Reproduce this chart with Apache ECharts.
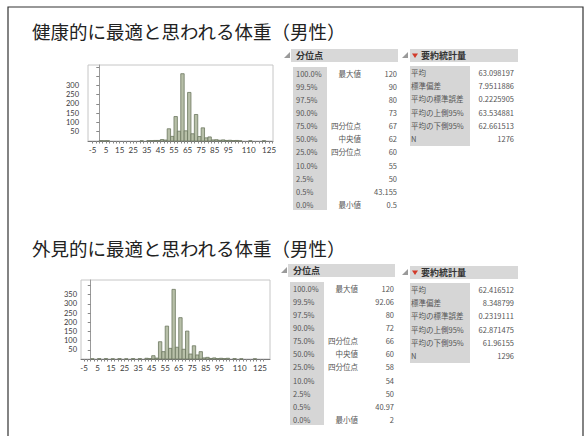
<!DOCTYPE html>
<html>
<head>
<meta charset="utf-8" />
<title>最適と思われる体重（男性）</title>
<script src="https://cdn.jsdelivr.net/npm/echarts@6.0.0/dist/echarts.min.js"></script>
<style>
    * { margin: 0; padding: 0; box-sizing: border-box }
    body { background: #fff; width: 586px; height: 436px; overflow: hidden }
    #chart { width: 586px; height: 436px }
</style>
</head>
<body>
<div id="chart"></div>
<script>
    // ヒストグラム（ビン幅 2.5）
    const binWidth = 2.5;
    const binStarts1 = [0, 2.5, 5, 30, 35, 37.5, 40, 42.5, 45, 47.5, 50, 52.5, 55, 57.5, 60, 62.5, 65, 67.5, 70, 72.5, 75, 77.5, 80, 82.5, 85, 87.5, 90, 92.5, 95, 97.5, 100, 102.5, 110, 120];
    const counts1 = [2, 1, 2, 1, 2, 2, 3, 3, 8, 5, 66, 25, 132, 53, 363, 55, 262, 39, 143, 24, 71, 17, 22, 6, 7, 4, 6, 3, 4, 2, 3, 1, 1, 1];
    const binStarts2 = [0, 5, 10, 15, 20, 25, 30, 35, 40, 42.5, 45, 47.5, 50, 52.5, 55, 57.5, 60, 62.5, 65, 67.5, 70, 72.5, 75, 77.5, 80, 82.5, 85, 87.5, 90, 92.5, 95, 97.5, 100, 105, 110, 120];
    const counts2 = [1, 2, 2, 1, 2, 1, 2, 2, 4, 2, 18, 5, 94, 40, 179, 58, 379, 64, 225, 53, 152, 27, 72, 22, 40, 6, 9, 3, 6, 2, 4, 2, 4, 2, 1, 1];

    // 軸ラベル
    const xLabelVals = [-5, 5, 15, 25, 35, 45, 55, 65, 75, 85, 95, 110, 125];
    const yLabelVals1 = [50, 100, 150, 200, 250, 300];
    const yTickVals1 = [50, 100, 150, 200, 250, 300, 350, 400];
    const yLabelVals2 = [50, 100, 150, 200, 250, 300, 350];
    const yTickVals2 = [50, 100, 150, 200, 250, 300, 350, 400];

    // 表
    const titles = ['健康的に最適と思われる体重（男性）', '外見的に最適と思われる体重（男性）'];
    const quantPct = ['100.0%', '99.5%', '97.5%', '90.0%', '75.0%', '50.0%', '25.0%', '10.0%', '2.5%', '0.5%', '0.0%'];
    const quantMark = ['最大値', '', '', '', '四分位点', '中央値', '四分位点', '', '', '', '最小値'];
    const quantVals1 = ['120', '90', '80', '73', '67', '62', '60', '55', '50', '43.155', '0.5'];
    const quantVals2 = ['120', '92.06', '80', '72', '66', '60', '58', '54', '50', '40.97', '2'];
    const statNames = ['平均', '標準偏差', '平均の標準誤差', '平均の上側95%', '平均の下側95%', 'N'];
    const statVals1 = ['63.098197', '7.9511886', '0.2225905', '63.534881', '62.661513', '1276'];
    const statVals2 = ['62.416512', '8.348799', '0.2319111', '62.871475', '61.96155', '1296'];

    const FONT = '"Noto Sans CJK JP", "Noto Sans", sans-serif';
    const barFill = '#b7bfa8';
    const barLine = '#6c775f';

    function histData(starts, counts) {
        return starts.map((s, i) => [s, s + binWidth, counts[i]]);
    }

    function tickRange(from, to, step) {
        const out = [];
        for (let v = from; v <= to + 1e-9; v += step) out.push(v);
        return out;
    }

    function renderBin(params, api) {
        const p0 = api.coord([api.value(0), api.value(2)]);
        const p1 = api.coord([api.value(1), 0]);
        return {
            type: 'rect',
            shape: { x: p0[0], y: p0[1], width: p1[0] - p0[0], height: p1[1] - p0[1] },
            style: { fill: barFill, stroke: barLine, lineWidth: 0.8 }
        };
    }

    function txt(x, y, s, opt) {
        return {
            type: 'text', x: x, y: y, silent: true,
            style: Object.assign({
                text: s, fontSize: 7.5, fontFamily: FONT, fill: '#555',
                verticalAlign: 'middle', align: 'left'
            }, opt || {})
        };
    }

    function quantTable(dx, dy, vals) {
        const els = [];
        els.push({ type: 'rect', shape: { x: 291 + dx, y: 49 + dy, width: 107, height: 13 }, style: { fill: '#d8d8d8' } });
        els.push({ type: 'polygon', shape: { points: [[290 + dx, 52 + dy], [290 + dx, 58 + dy], [284 + dx, 58 + dy]] }, style: { fill: '#9a9a9a' } });
        els.push(txt(296 + dx, 55.5 + dy, '分位点', { fontSize: 9, fontWeight: 'bold', fill: '#333' }));
        els.push({ type: 'rect', shape: { x: 293 + dx, y: 67 + dy, width: 34, height: 143 }, style: { fill: '#d6d6d6' } });
        quantPct.forEach((p, i) => {
            const y = 73.3 + i * 13.1 + dy;
            els.push(txt(296 + dx, y, p));
            if (quantMark[i]) els.push(txt(361 + dx, y, quantMark[i], { align: 'right' }));
            els.push(txt(397 + dx, y, vals[i], { align: 'right' }));
        });
        return els;
    }

    function statTable(dy, vals) {
        const els = [];
        els.push({ type: 'polygon', shape: { points: [[408, 52 + dy], [408, 58 + dy], [402, 58 + dy]] }, style: { fill: '#9a9a9a' } });
        els.push({ type: 'rect', shape: { x: 410, y: 49 + dy, width: 108, height: 13 }, style: { fill: '#d8d8d8' } });
        els.push({ type: 'polygon', shape: { points: [[412, 53.5 + dy], [418, 53.5 + dy], [415, 58 + dy]] }, style: { fill: '#d23a2a' } });
        els.push(txt(421, 55.5 + dy, '要約統計量', { fontSize: 9, fontWeight: 'bold', fill: '#333' }));
        els.push({ type: 'rect', shape: { x: 410, y: 66 + dy, width: 60, height: 80 }, style: { fill: '#d6d6d6' } });
        statNames.forEach((n, i) => {
            const y = 72 + i * 13.35 + dy;
            els.push(txt(411, y, n));
            els.push(txt(514, y, vals[i], { align: 'right' }));
        });
        return els;
    }

    const chart = echarts.init(document.getElementById('chart'), null, { renderer: 'svg', width: 586, height: 436 });

    const xAxisBase = {
        type: 'value',
        axisLine: { show: true, onZero: false, lineStyle: { color: '#777', width: 1 } },
        axisTick: { show: true, length: 2.5, customValues: tickRange(-5, 127.5, 2.5), lineStyle: { color: '#888' } },
        axisLabel: { customValues: xLabelVals, fontSize: 8, color: '#3a3a3a', fontFamily: 'Lato, "DejaVu Sans", sans-serif', margin: 5 },
        splitLine: { show: false }
    };
    const yAxisBase = {
        type: 'value', min: 0,
        axisLine: { show: true, lineStyle: { color: '#999', width: 1 } },
        axisLabel: { fontSize: 7.5, color: '#3a3a3a', fontFamily: 'Lato, "DejaVu Sans", sans-serif', margin: 2 },
        splitLine: { show: false }
    };

    const graphic = [
        { type: 'rect', shape: { x: 8, y: 7, width: 575, height: 440 }, style: { fill: 'none', stroke: '#333', lineWidth: 1.2 }, silent: true },
        txt(32, 30.5, titles[0], { fontSize: 18.5, fill: '#222', fontFamily: FONT }),
        txt(32, 248, titles[1], { fontSize: 18.5, fill: '#222', fontFamily: FONT })
    ].concat(quantTable(0, 0, quantVals1), statTable(0, statVals1),
        quantTable(-3, 215, quantVals2), statTable(217, statVals2));

    const option = {
        animation: false,
        backgroundColor: '#fff',
        grid: [
            { left: 88, top: 65, width: 185, height: 76, show: true, borderColor: '#c6c6c6', borderWidth: 1, outerBoundsMode: 'none' },
            { left: 81, top: 280, width: 189, height: 79, show: true, borderColor: '#c6c6c6', borderWidth: 1, outerBoundsMode: 'none' }
        ],
        xAxis: [
            Object.assign({}, xAxisBase, { gridIndex: 0, min: -8.3, max: 127.9 }),
            Object.assign({}, xAxisBase, { gridIndex: 1, min: -7.2, max: 132.4 })
        ],
        yAxis: [
            Object.assign({}, yAxisBase, {
                gridIndex: 0, max: 410, offset: 7,
                axisTick: { show: true, length: 3, customValues: yTickVals1, lineStyle: { color: '#888' } },
                axisLabel: Object.assign({}, yAxisBase.axisLabel, { customValues: yLabelVals1 })
            }),
            Object.assign({}, yAxisBase, {
                gridIndex: 1, max: 430, offset: 2,
                axisTick: { show: true, length: 3, customValues: yTickVals2, lineStyle: { color: '#888' } },
                axisLabel: Object.assign({}, yAxisBase.axisLabel, { customValues: yLabelVals2 })
            })
        ],
        series: [
            { type: 'custom', xAxisIndex: 0, yAxisIndex: 0, renderItem: renderBin, encode: { x: [0, 1], y: 2 }, data: histData(binStarts1, counts1) },
            { type: 'custom', xAxisIndex: 1, yAxisIndex: 1, renderItem: renderBin, encode: { x: [0, 1], y: 2 }, data: histData(binStarts2, counts2) }
        ],
        graphic: graphic
    };

    chart.setOption(option);
</script>
</body>
</html>
